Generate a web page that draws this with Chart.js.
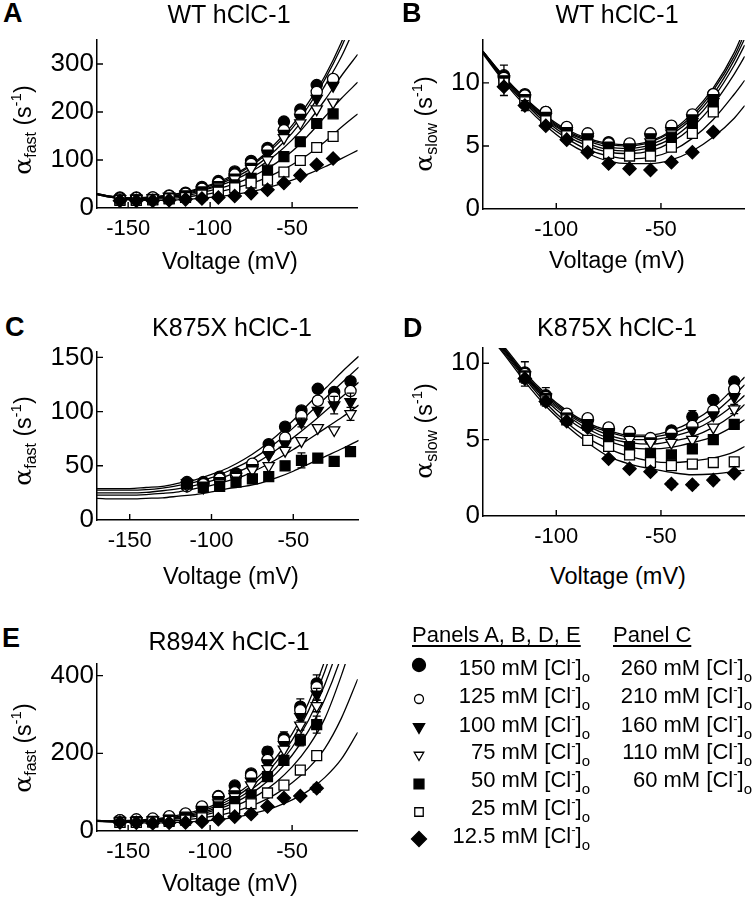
<!DOCTYPE html>
<html><head><meta charset="utf-8">
<script src="https://cdn.jsdelivr.net/npm/chart.js@4.4.1/dist/chart.umd.min.js"></script>
<style>
html,body{margin:0;padding:0;background:#fff;overflow:hidden;}
body{width:753px;height:900px;position:relative;font-family:"Liberation Sans",Arial,sans-serif;color:#000;}
canvas{position:absolute;}
.t{position:absolute;white-space:nowrap;line-height:1;z-index:5;}
.title{font-size:25px;transform:translateX(-50%);}
.letter{font-size:27px;font-weight:bold;}
.xt{font-size:23.5px;transform:translateX(-50%);}
.yt{font-size:23px;transform:translate(-50%,-50%) rotate(-90deg);}
.yt .al{font-family:"DejaVu Serif","Liberation Serif",serif;font-size:25px;}
.yt sub{font-size:16px;vertical-align:-5px;line-height:0;}
.yt sup{font-size:15px;vertical-align:10px;line-height:0;}
.lg{font-size:22px;}
.lg sup{font-size:13px;vertical-align:9px;line-height:0;}
.lg sub{font-size:15px;vertical-align:-7px;line-height:0;}
.hd{font-size:22px;text-decoration:underline;text-underline-offset:3px;}
</style></head><body>
<script>
// ---------------- DATA ----------------
const concLabels = ['150 mM', '125 mM', '100 mM', '75 mM', '50 mM', '25 mM', '12.5 mM'];
const concLabelsC = ['260 mM', '210 mM', '160 mM', '110 mM', '60 mM'];

// Panel A: WT hClC-1, alpha fast
const voltA = [-155,-145,-135,-125,-115,-105,-95,-85,-75,-65,-55,-45,-35,-25];
const wtFast = [
  [22,22,22,26,32,44,56,76,98,125,180,205,256,265],
  [20,21,22,25,30,40,52,70,92,120,162,195,242,269],
  [19,20,21,24,29,37,48,64,86,114,155,188,228,255],
  [18,19,20,23,27,34,45,60,82,100,146,177,206,220],
  [17,17,18,20,24,29,38,48,62,79,107,138,176,196],
  [16,16,17,19,22,27,33,42,52,58,75,99,126,149],
  [15,15,15,16,18,20,22,25,31,38,52,68,90,103]
];
const voltAFit = [-169,-160,-150,-140,-130,-120,-110,-100,-90,-80,-70,-60,-50,-40,-30,-20,-10];
const wtFastFit = [
  [30,24,21,22,25,30,38,48,62,80,103,135,172,220,275,345,430],
  [30,24,21,21,24,29,36,46,59,77,100,130,166,212,268,335,415],
  [30,24,20,21,23,27,34,43,56,72,93,121,156,200,255,315,390],
  [29,23,20,20,22,26,32,41,52,67,86,111,142,180,225,275,320],
  [29,23,19,19,21,24,29,36,45,57,73,93,118,152,190,228,262],
  [28,22,18,18,19,21,25,30,37,46,57,72,90,112,138,168,196],
  [28,22,17,16,16,17,19,22,26,31,38,47,58,71,86,103,120]
];

// Panel B: WT hClC-1, alpha slow
const voltB = [-125,-115,-105,-95,-85,-75,-65,-55,-45,-35,-25];
const wtSlow = [
  [10.6,9.1,7.7,6.4,5.9,5.3,5.1,5.9,6.5,7.4,9.1],
  [10.4,9.0,7.7,6.5,6.0,5.2,5.2,6.0,6.6,7.5,9.1],
  [10.3,8.8,7.4,6.2,5.7,5.0,4.9,5.7,6.2,7.2,8.8],
  [10.2,8.7,7.3,6.0,5.5,4.8,4.7,5.3,6.0,6.9,8.5],
  [10.1,8.6,7.2,6.0,5.4,4.9,4.6,5.0,5.7,6.8,8.3],
  [10.0,8.5,7.0,5.8,5.1,4.4,4.2,4.2,4.9,6.0,7.7],
  [9.7,8.2,6.6,5.5,4.5,3.6,3.2,3.1,3.7,4.5,6.1]
];
const wtSlowErr = [
  [0.8,0.3,0,0,0,0,0,0,0,0,0],
  [0,0,0,0,0,0,0,0,0,0,0],
  [0,0,0,0,0,0,0,0,0,0,0],
  [0,0,0,0,0,0,0,0,0,0,0],
  [0,0,0,0,0,0,0,0,0,0,0],
  [0,0,0,0,0,0,0,0,0,0,0],
  [0.7,0.4,0,0,0,0,0,0,0,0,0]
];
const voltBFit = [-135,-125,-115,-105,-95,-85,-75,-65,-55,-45,-35,-25,-15,-10];
const wtSlowFit = [
  [12.5,10.5,8.8,7.4,6.3,5.6,5.2,5.1,5.4,6.2,7.6,9.6,12.4,14.3],
  [12.5,10.5,8.8,7.3,6.2,5.5,5.1,5.0,5.3,6.1,7.4,9.4,12.1,13.9],
  [12.5,10.4,8.7,7.2,6.1,5.4,4.9,4.8,5.1,5.9,7.2,9.1,11.8,13.5],
  [12.4,10.4,8.6,7.1,6.0,5.2,4.7,4.6,4.9,5.6,6.9,8.8,11.4,13.0],
  [12.4,10.3,8.5,7.0,5.8,5.0,4.5,4.4,4.6,5.3,6.5,8.3,10.7,12.1],
  [12.4,10.2,8.4,6.8,5.6,4.7,4.2,4.0,4.1,4.6,5.6,7.1,9.1,10.2],
  [12.3,10.1,8.2,6.6,5.3,4.4,3.8,3.6,3.6,3.9,4.6,5.7,7.2,8.2]
];

// Panel C: K875X hClC-1, alpha fast
const voltC = [-115,-105,-95,-85,-75,-65,-55,-45,-35,-25,-15];
const k875Fast = [
  [35,35,40,43,50,70,86,101,121,118,128],
  [31,33,38,41,52,64,76,96,110,113,119],
  [34,32,36,43,48,60,70,90,101,106,109],
  [32,30,34,40,46,50,64,73,85,83,98],
  [33,30,31,35,38,40,50,55,57,54,63]
];
const k875FastErr = [
  [0,0,0,0,0,0,0,0,0,0,0],
  [0,0,0,0,0,0,0,0,0,0,0],
  [0,0,0,0,0,0,0,4,0,8,8],
  [0,0,0,0,0,0,0,0,0,0,6],
  [0,0,0,0,0,0,0,7,0,0,0]
];
const voltCFit = [-170,-160,-150,-140,-130,-120,-110,-100,-90,-80,-70,-60,-50,-40,-30,-20,-10];
const k875FastFit = [
  [29,29,29,30,31,34,37,42,48,56,66,78,92,108,122,137,151],
  [27.5,27.5,27.5,28,29.5,32,35,39,45,52,61,72,85,99,113,127,141],
  [25,25,25,25.5,27,29,32,36,41,47,55,65,76,88,101,114,127],
  [23,23,23,23.5,24.5,26,29,32,36,41,48,56,65,75,85,95,106],
  [20,19.5,19.5,20,20.5,22,23.5,26,29,31,34,39,45,52,59,66,73.5]
];

// Panel D: K875X hClC-1, alpha slow
const voltD = [-115,-105,-95,-85,-75,-65,-55,-45,-35,-25,-15];
const k875Slow = [
  [9.4,7.9,6.6,6.3,5.7,5.5,5.0,5.6,6.5,7.6,8.8],
  [9.3,7.8,6.7,6.4,5.8,5.5,5.1,5.4,5.9,6.9,8.3],
  [9.2,7.8,6.5,6.1,5.5,5.2,4.9,5.2,5.6,6.6,7.8],
  [9.2,7.7,6.5,6.0,5.4,5.0,4.8,4.8,5.0,5.8,7.0],
  [9.1,7.7,6.4,5.95,5.2,4.55,4.1,4.0,4.4,5.0,6.0],
  [9.1,7.6,6.3,4.95,4.55,4.0,3.5,3.3,3.4,3.5,3.55],
  [9.0,7.5,6.2,5.8,3.75,3.1,2.9,2.1,2.05,2.35,2.8]
];
const k875SlowErr = [
  [0.7,0.5,0.3,0,0,0,0,0,0.4,0,0],
  [0,0,0,0,0,0,0,0,0,0,0],
  [0,0,0,0,0,0,0,0,0,0,0],
  [0,0,0,0,0,0,0,0,0,0,0.3],
  [0,0,0,0,0,0,0,0,0,0,0],
  [0,0,0,0,0,0,0,0,0,0,0],
  [0.5,0.3,0,0,0,0,0,0.2,0.2,0.2,0]
];
const voltDFit = [-135,-125,-115,-105,-95,-85,-75,-65,-55,-45,-35,-25,-15,-10];
const k875SlowFit = [
  [12.6,11.1,9.4,8.0,6.9,6.1,5.6,5.3,5.3,5.6,6.2,7.1,8.4,9.1],
  [12.6,11.0,9.3,7.9,6.8,6.0,5.5,5.2,5.2,5.4,5.9,6.7,7.9,8.6],
  [12.5,10.9,9.2,7.8,6.7,5.9,5.3,5.0,5.0,5.2,5.6,6.3,7.3,7.9],
  [12.5,10.9,9.2,7.7,6.6,5.7,5.1,4.8,4.7,4.9,5.2,5.8,6.7,7.3],
  [12.4,10.8,9.1,7.6,6.4,5.5,4.9,4.5,4.4,4.5,4.8,5.2,5.9,6.3],
  [12.4,10.7,9.0,7.4,6.1,5.1,4.4,3.9,3.6,3.5,3.6,3.8,4.2,4.55],
  [12.3,10.6,8.8,7.2,5.9,4.8,3.9,3.4,3.1,2.85,2.7,2.75,2.9,3.0]
];

// Panel E: R894X hClC-1, alpha fast
const voltE = [-155,-145,-135,-125,-115,-105,-95,-85,-75,-65,-55,-45,-35];
const r894Fast = [
  [28,28,30,35,42,60,90,117,148,204,240,320,380],
  [28,30,32,38,45,63,88,100,142,183,234,311,370],
  [25,26,28,32,40,55,80,95,128,175,222,294,352],
  [24,25,27,30,37,50,72,88,118,160,210,272,322],
  [23,24,25,28,33,42,62,76,93,140,182,234,274],
  [22,22,23,25,28,34,48,58,70,98,118,157,194],
  [22,21,20,21,22,24,30,37,44,63,85,90,110]
];
const r894FastErr = [
  [0,0,0,0,0,0,0,6,8,12,15,20,22],
  [0,0,0,0,0,0,0,5,7,10,12,18,20],
  [0,0,0,0,0,0,0,0,0,0,0,0,15],
  [0,0,0,0,0,0,0,0,0,0,0,12,15],
  [0,0,0,0,0,0,0,0,0,0,10,15,22],
  [0,0,0,0,0,0,0,0,0,0,6,10,12],
  [0,0,0,0,0,0,0,0,0,0,0,6,10]
];
const voltEFit = [-169,-160,-150,-140,-130,-120,-110,-100,-90,-80,-70,-60,-50,-40,-30,-20,-10];
const r894FastFit = [
  [27,26,27,29,33,40,50,63,82,107,142,188,250,330,440,590,780],
  [27,26,26,28,31,37,46,58,76,100,133,176,234,310,412,550,730],
  [26,25,25,27,30,35,43,54,70,92,122,162,215,285,378,500,660],
  [26,25,25,26,29,33,40,50,64,84,111,147,195,258,340,450,595],
  [25,24,24,25,27,31,37,45,57,73,95,125,165,218,290,400,530],
  [25,24,23,24,25,27,31,37,45,57,73,95,124,162,213,290,391],
  [25,23,22,21,21,22,24,27,32,39,49,62,80,104,138,185,254]
];

// axis ticks
const xTicksWide = [-150,-100,-50];
const xTicksNarrow = [-100,-50];
const yTicksA = [0,100,200,300];
const yTicksB = [0,5,10];
const yTicksC = [0,50,100,150];
const yTicksD = [0,5,10];
const yTicksE = [0,200,400];

// ---------------- STYLE / LAYOUT ----------------
const markers = [
  {pointStyle:'circle',   fill:'#000', radius:5.6, rotation:0},
  {pointStyle:'circle',   fill:'#fff', radius:5.6, rotation:0},
  {pointStyle:'triangle', fill:'#000', radius:6.5, rotation:180},
  {pointStyle:'triangle', fill:'#fff', radius:6.5, rotation:180},
  {pointStyle:'rect',     fill:'#000', radius:7,   rotation:0},
  {pointStyle:'rect',     fill:'#fff', radius:7,   rotation:0},
  {pointStyle:'rectRot',  fill:'#000', radius:6.6, rotation:0}
];
const PAD_T = 20, PAD_R = 3, AX_W = 70, AX_H = 45;
const FONT = "'Liberation Sans', Arial, sans-serif";

const inwardTicks = {
  id: 'inwardTicks',
  beforeDatasetsDraw(chart) {
    const {ctx, chartArea: a, scales: {x, y}} = chart;
    ctx.save();
    ctx.strokeStyle = '#000'; ctx.lineWidth = 1.4;
    ctx.beginPath();
    x.ticks.forEach(t => { const p = x.getPixelForValue(t.value); ctx.moveTo(p, a.bottom); ctx.lineTo(p, a.bottom - 6); });
    y.ticks.forEach(t => { if (t.value === y.min) return; const p = y.getPixelForValue(t.value); ctx.moveTo(a.left, p); ctx.lineTo(a.left + 6, p); });
    ctx.stroke();
    ctx.restore();
  }
};
const errorBars = {
  id: 'errorBars',
  beforeDatasetDraw(chart, args) {
    const ds = chart.data.datasets[args.index];
    if (!ds.err) return;
    const {ctx, scales: {x, y}} = chart;
    ctx.save();
    ctx.strokeStyle = '#000'; ctx.lineWidth = 1.3;
    ctx.beginPath();
    ds.data.forEach((p, i) => {
      const e = ds.err[i];
      if (!e || p.y == null) return;
      const px = x.getPixelForValue(p.x);
      const y1 = y.getPixelForValue(p.y + e), y2 = y.getPixelForValue(p.y - e);
      ctx.moveTo(px, y1); ctx.lineTo(px, y2);
      ctx.moveTo(px - 4, y1); ctx.lineTo(px + 4, y1);
      ctx.moveTo(px - 4, y2); ctx.lineTo(px + 4, y2);
    });
    ctx.stroke();
    ctx.restore();
  }
};

function makePanel(area, xMin, xMax, yMax, xTicks, yTicks, volts, rows, fitVolts, fitRows, errRows) {
  const cv = document.createElement('canvas');
  const w = AX_W + (area.r - area.l) + PAD_R;
  const h = PAD_T + (area.b - area.t) + AX_H;
  cv.width = w; cv.height = h;
  cv.style.left = (area.l - AX_W) + 'px';
  cv.style.top = (area.t - PAD_T) + 'px';
  cv.style.width = w + 'px'; cv.style.height = h + 'px';
  document.body.appendChild(cv);
  const datasets = [];
  fitRows.forEach((row) => {
    datasets.push({
      data: fitVolts.map((v, i) => ({x: v, y: row[i]})),
      showLine: true, borderColor: '#000', borderWidth: 1.3, pointRadius: 0,
      cubicInterpolationMode: 'monotone', fill: false, order: 100
    });
  });
  rows.forEach((row, k) => {
    const m = markers[k];
    datasets.push({
      data: volts.map((v, i) => ({x: v, y: row[i]})),
      err: errRows ? errRows[k] : null,
      showLine: false, pointStyle: m.pointStyle, pointRotation: m.rotation,
      pointRadius: m.radius, pointBackgroundColor: m.fill, pointBorderColor: '#000',
      pointBorderWidth: 1.3, order: 10 - k, clip: 10
    });
  });
  new Chart(cv, {
    type: 'scatter',
    data: {datasets},
    options: {
      responsive: false, animation: false, events: [],
      layout: {padding: {top: PAD_T, right: PAD_R, left: 0, bottom: 0}},
      plugins: {legend: {display: false}, tooltip: {enabled: false}},
      scales: {
        x: {
          type: 'linear', min: xMin, max: xMax,
          afterBuildTicks: s => { s.ticks = xTicks.map(v => ({value: v})); },
          afterFit: s => { s.height = AX_H; },
          grid: {display: true, drawOnChartArea: false, drawTicks: false},
          border: {display: true, color: '#000', width: 1.5},
          ticks: {color: '#000', padding: 8, font: {family: FONT, size: 22}, callback: v => String(v)}
        },
        y: {
          type: 'linear', min: 0, max: yMax,
          afterBuildTicks: s => { s.ticks = yTicks.map(v => ({value: v})); },
          afterFit: s => { s.width = AX_W; },
          grid: {display: true, drawOnChartArea: false, drawTicks: false},
          border: {display: true, color: '#000', width: 1.5},
          ticks: {color: '#000', padding: 3, font: {family: FONT, size: 26}, callback: v => String(v)}
        }
      }
    },
    plugins: [inwardTicks, errorBars]
  });
}

function addText(cls, html, left, top) {
  const d = document.createElement('div');
  d.className = 't ' + cls;
  d.innerHTML = html;
  d.style.left = left + 'px'; d.style.top = top + 'px';
  document.body.appendChild(d);
  return d;
}

// panels
makePanel({l:97, r:363, t:40, b:208}, -169, -10, 350, xTicksWide, yTicksA, voltA, wtFast, voltAFit, wtFastFit, null);
makePanel({l:483, r:750, t:40, b:209}, -135, -10, 13.4, xTicksNarrow, yTicksB, voltB, wtSlow, voltBFit, wtSlowFit, wtSlowErr);
makePanel({l:97, r:364, t:352, b:520}, -170, -10, 155, xTicksWide, yTicksC, voltC, k875Fast, voltCFit, k875FastFit, k875FastErr);
makePanel({l:483, r:750, t:348, b:516}, -135, -10, 11, xTicksNarrow, yTicksD, voltD, k875Slow, voltDFit, k875SlowFit, k875SlowErr);
makePanel({l:97, r:363, t:664, b:831}, -169, -10, 430, xTicksWide, yTicksE, voltE, r894Fast, voltEFit, r894FastFit, r894FastErr);

// text
const yFast = '<span class="al">&alpha;</span><sub>fast</sub> (s<sup>-1</sup>)';
const ySlow = '<span class="al">&alpha;</span><sub>slow</sub> (s<sup>-1</sup>)';
[['A',3,0],['B',402,0],['C',5,314],['D',403,315],['E',2,625]].forEach(([l,x,y]) => addText('letter', l, x, y));
[['WT hClC-1',229,2],['WT hClC-1',617,2],['K875X hClC-1',232,315],['K875X hClC-1',617,315],['R894X hClC-1',229,629]].forEach(([s,x,y]) => addText('title', s, x, y));
[[230,250],[617,249],[231,565],[618,565],[230,872]].forEach(([x,y]) => addText('xt', 'Voltage (mV)', x, y));
[[yFast,22,130],[ySlow,423,124],[yFast,22,441],[ySlow,423,431],[yFast,22,748]].forEach(([s,x,y]) => addText('yt', s, x, y));

// legend
addText('hd', 'Panels A, B, D, E', 412, 624);
addText('hd', 'Panel C', 613, 624);
const rowY = [669, 697, 726, 753, 781, 809, 837];
const cl = ' [Cl<sup>-</sup>]<sub>o</sub>';
concLabels.forEach((s, i) => {
  const d = addText('lg', s + cl, 0, rowY[i] - 12);
  d.style.left = ''; d.style.right = (753 - 590) + 'px';
});
concLabelsC.forEach((s, i) => {
  const d = addText('lg', s + cl, 0, rowY[i] - 12);
  d.style.left = ''; d.style.right = (753 - 752) + 'px';
});
const lc = document.createElement('canvas');
lc.width = 40; lc.height = 220;
lc.style.left = '400px'; lc.style.top = '640px';
document.body.appendChild(lc);
const lctx = lc.getContext('2d');
const legSym = [
  {r:6.5, y:665}, {r:4.5, y:699}, {r:6.5, y:727}, {r:5.5, y:755}, {r:7, y:784}, {r:6, y:812}, {r:7.5, y:839}
];
markers.forEach((m, i) => {
  lctx.fillStyle = m.fill; lctx.strokeStyle = '#000';
  lctx.lineWidth = 1.3;
  Chart.helpers.drawPoint(lctx, {pointStyle: m.pointStyle, rotation: m.rotation, radius: legSym[i].r, borderWidth: 1.3}, 19, legSym[i].y - 640);
});
</script>
</body></html>
